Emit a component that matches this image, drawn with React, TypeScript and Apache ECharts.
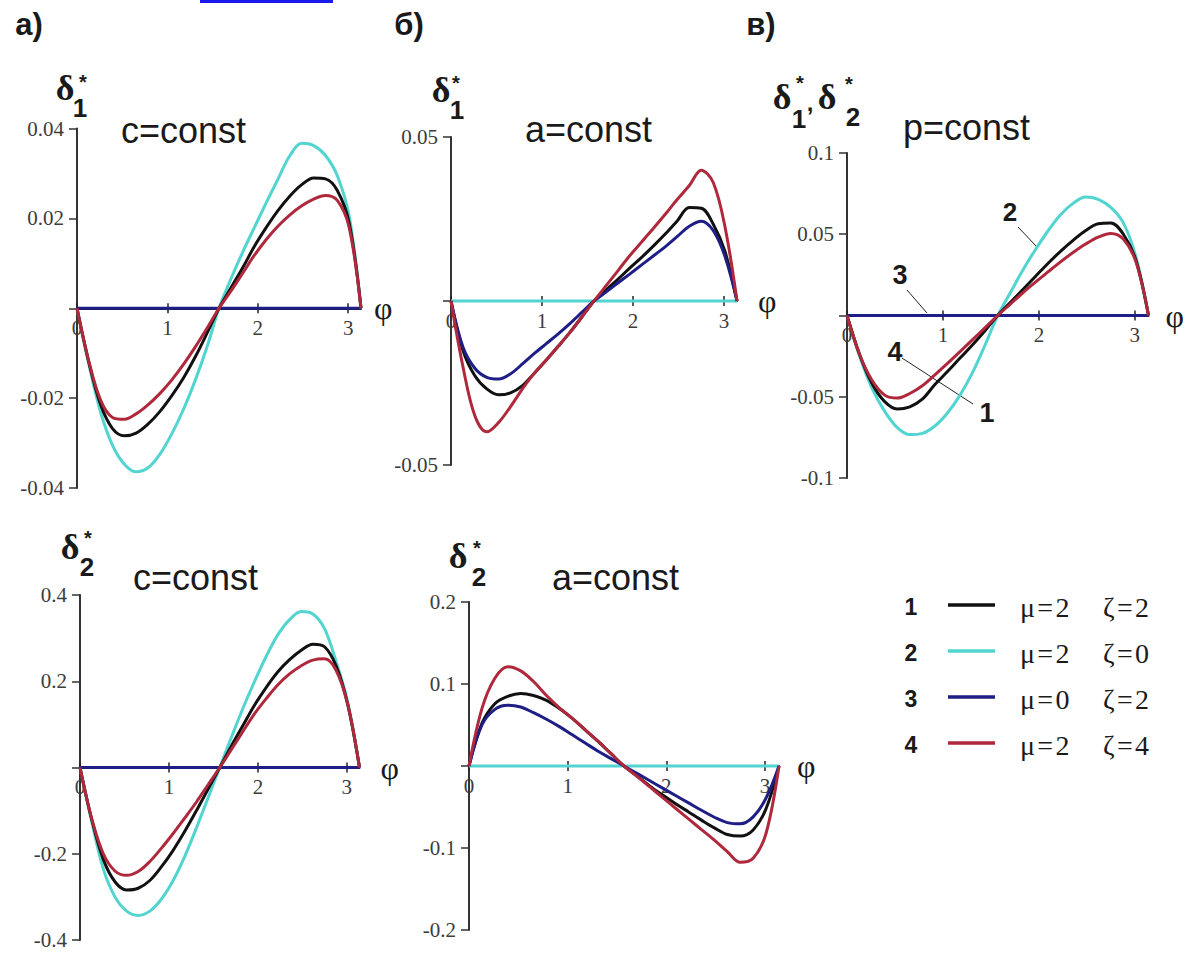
import React, { useEffect, useRef } from 'react';
import * as echarts from 'echarts';

// φ grid (rad), step π/24
const PHI = [0, 0.131, 0.262, 0.393, 0.524, 0.654, 0.785, 0.916, 1.047, 1.178, 1.309, 1.44, 1.571, 1.702, 1.833, 1.963, 2.094, 2.225, 2.356, 2.487, 2.618, 2.749, 2.88, 3.011, 3.142];
const ZERO = [0, 0, 0, 0, 0, 0, 0, 0, 0, 0, 0, 0, 0, 0, 0, 0, 0, 0, 0, 0, 0, 0, 0, 0, 0];

// а) δ1*, c=const
const A_CYAN = [0, -0.0125, -0.0232, -0.0305, -0.0347, -0.0364, -0.0355, -0.0325, -0.028, -0.0225, -0.016, -0.0085, 0, 0.0065, 0.0125, 0.018, 0.0235, 0.0288, 0.034, 0.0367, 0.0362, 0.034, 0.0295, 0.0205, 0];
const A_BLACK = [0, -0.012, -0.0215, -0.0268, -0.0284, -0.0278, -0.0258, -0.023, -0.0195, -0.0155, -0.0108, -0.0055, 0, 0.0045, 0.009, 0.0138, 0.018, 0.0218, 0.025, 0.0275, 0.029, 0.0288, 0.0262, 0.019, 0];
const A_RED = [0, -0.0118, -0.0205, -0.0243, -0.0247, -0.0235, -0.0215, -0.019, -0.016, -0.0125, -0.0086, -0.0044, 0, 0.0038, 0.0078, 0.0118, 0.0153, 0.0183, 0.0208, 0.0228, 0.0243, 0.0251, 0.024, 0.018, 0];

// б) δ1*, a=const
const B_BLACK = [0, -0.015, -0.0228, -0.0268, -0.0286, -0.028, -0.0258, -0.022, -0.018, -0.0138, -0.0095, -0.0048, 0, 0.0033, 0.0066, 0.01, 0.0133, 0.0168, 0.0205, 0.0245, 0.0285, 0.0283, 0.0235, 0.015, 0];
const B_BLUE = [0, -0.014, -0.0205, -0.0233, -0.0238, -0.0222, -0.0192, -0.016, -0.013, -0.01, -0.0068, -0.0034, 0, 0.0027, 0.0055, 0.0082, 0.011, 0.0138, 0.0166, 0.0197, 0.0228, 0.0243, 0.0215, 0.0135, 0];
const B_RED = [0, -0.02, -0.035, -0.0399, -0.037, -0.0322, -0.0268, -0.022, -0.018, -0.0138, -0.0095, -0.0048, 0, 0.0046, 0.0092, 0.0138, 0.018, 0.0222, 0.0265, 0.031, 0.0352, 0.0399, 0.0362, 0.0225, 0];

// в) δ1*, δ2*, p=const
const C_CYAN = [0, -0.025, -0.045, -0.059, -0.069, -0.0733, -0.0725, -0.068, -0.06, -0.049, -0.035, -0.018, 0, 0.014, 0.028, 0.0405, 0.052, 0.062, 0.069, 0.0729, 0.0715, 0.0665, 0.057, 0.036, 0];
const C_BLACK = [0, -0.024, -0.042, -0.053, -0.0575, -0.0562, -0.0515, -0.0425, -0.0345, -0.0262, -0.018, -0.0092, 0, 0.008, 0.016, 0.024, 0.032, 0.0395, 0.0462, 0.0523, 0.0565, 0.057, 0.05, 0.034, 0];
const C_RED = [0, -0.024, -0.04, -0.049, -0.0508, -0.048, -0.0432, -0.0365, -0.0295, -0.0222, -0.0148, -0.0075, 0, 0.007, 0.014, 0.0205, 0.0268, 0.033, 0.0388, 0.044, 0.0482, 0.0505, 0.047, 0.033, 0];

// а) δ2*, c=const
const D_CYAN = [0, -0.125, -0.235, -0.3, -0.333, -0.343, -0.333, -0.305, -0.262, -0.206, -0.14, -0.07, 0, 0.07, 0.138, 0.2, 0.258, 0.308, 0.343, 0.362, 0.356, 0.322, 0.245, 0.15, 0];
const D_BLACK = [0, -0.12, -0.213, -0.265, -0.284, -0.28, -0.262, -0.23, -0.192, -0.148, -0.1, -0.05, 0, 0.05, 0.098, 0.145, 0.186, 0.222, 0.25, 0.272, 0.286, 0.28, 0.235, 0.145, 0];
const D_RED = [0, -0.118, -0.2, -0.24, -0.25, -0.241, -0.218, -0.187, -0.153, -0.117, -0.08, -0.04, 0, 0.042, 0.084, 0.125, 0.16, 0.192, 0.217, 0.236, 0.249, 0.252, 0.225, 0.145, 0];

// б) δ2*, a=const
const E_BLACK = [0, 0.052, 0.076, 0.085, 0.0885, 0.086, 0.08, 0.07, 0.058, 0.044, 0.03, 0.015, 0, -0.012, -0.0245, -0.0355, -0.046, -0.056, -0.066, -0.0755, -0.0835, -0.0855, -0.078, -0.052, 0];
const E_BLUE = [0, 0.05, 0.069, 0.074, 0.072, 0.065, 0.057, 0.048, 0.038, 0.028, 0.018, 0.009, 0, -0.009, -0.018, -0.027, -0.036, -0.045, -0.054, -0.0625, -0.069, -0.0705, -0.062, -0.039, 0];
const E_RED = [0, 0.07, 0.107, 0.121, 0.116, 0.103, 0.086, 0.071, 0.058, 0.044, 0.03, 0.015, 0, -0.0125, -0.0255, -0.0385, -0.0515, -0.0645, -0.0775, -0.0905, -0.1045, -0.1175, -0.1125, -0.082, 0];

const X_TICKS = [0, 1, 2, 3];

const LEGEND_NUMS = ['1', '2', '3', '4'];
const LEGEND_MU = ['μ\u200a=\u200a2', 'μ\u200a=\u200a2', 'μ\u200a=\u200a0', 'μ\u200a=\u200a2'];
const LEGEND_ZETA = ['ζ\u200a=\u200a2', 'ζ\u200a=\u200a0', 'ζ\u200a=\u200a2', 'ζ\u200a=\u200a4'];
const LEGEND_KEYS = ['black', 'cyan', 'navy', 'red'];

const COLORS: Record<string, string> = {
  black: '#111111',
  cyan: '#52d4d0',
  navy: '#1e1e86',
  red: '#b0283c',
};

type Panel = {
  left: number; top: number; width: number; height: number;
  min: number; max: number; interval: number; nameGap: number;
  lines: [string, number[]][];
};

const PANELS: Panel[] = [
  { left: 77, top: 128.5, width: 284, height: 359.5, min: -0.04, max: 0.04, interval: 0.02, nameGap: 13,
    lines: [['navy', ZERO], ['cyan', A_CYAN], ['black', A_BLACK], ['red', A_RED]] },
  { left: 451, top: 137, width: 286, height: 328, min: -0.05, max: 0.05, interval: 0.05, nameGap: 21,
    lines: [['cyan', ZERO], ['black', B_BLACK], ['navy', B_BLUE], ['red', B_RED]] },
  { left: 847, top: 153, width: 301.5, height: 325, min: -0.1, max: 0.1, interval: 0.05, nameGap: 17,
    lines: [['navy', ZERO], ['cyan', C_CYAN], ['black', C_BLACK], ['red', C_RED]] },
  { left: 80, top: 595, width: 279.5, height: 345, min: -0.4, max: 0.4, interval: 0.2, nameGap: 21,
    lines: [['navy', ZERO], ['cyan', D_CYAN], ['black', D_BLACK], ['red', D_RED]] },
  { left: 469, top: 602, width: 310, height: 328, min: -0.2, max: 0.2, interval: 0.1, nameGap: 18,
    lines: [['cyan', ZERO], ['black', E_BLACK], ['navy', E_BLUE], ['red', E_RED]] },
];

const TXT = '#1a1a1a';
const LBL = '#3c3c3c';

function txt(text: string, x: number, y: number, font: string, align = 'center', fill = TXT) {
  return { type: 'text', x, y, silent: true, style: { text, font, fill, align, verticalAlign: 'middle' } };
}
function seg(x1: number, y1: number, x2: number, y2: number, stroke = '#222', lineWidth = 1) {
  return { type: 'line', silent: true, shape: { x1, y1, x2, y2 }, style: { stroke, lineWidth } };
}

const DELTA = "bold 36px 'Liberation Serif'";
const STAR = "bold 20px 'Liberation Sans'";
const SUB = "bold 26px 'Liberation Sans'";
const TITLE = "36px 'Liberation Sans'";
const HEAD = "bold 31px 'Liberation Sans'";

function deltaLabel(dx: number, dy: number, sx: number, sy: number, sub: string, bx: number, by: number) {
  return [txt('δ', dx, dy, DELTA), txt('*', sx, sy + 4, STAR), txt(sub, bx, by, SUB)];
}

function buildOption() {
  const graphic: any[] = [
    { type: 'rect', silent: true, shape: { x: 200, y: 0, width: 133, height: 3 }, style: { fill: '#1a1aee' } },
    txt('а)', 29, 24, HEAD),
    txt('б)', 409, 24, HEAD),
    txt('в)', 761, 24, HEAD),
    txt('c=const', 121, 130.5, TITLE, 'left'),
    txt('a=const', 525, 129.5, TITLE, 'left'),
    txt('p=const', 903, 127.5, TITLE, 'left'),
    txt('c=const', 133, 577.5, TITLE, 'left'),
    txt('a=const', 552, 577.5, TITLE, 'left'),
    ...deltaLabel(65, 87.5, 83, 78, '1', 80, 108),
    ...deltaLabel(441, 90, 456, 79, '1', 457, 110),
    ...deltaLabel(782, 97, 800, 79, '1', 799, 119),
    txt(',', 810, 102, "bold 24px 'Liberation Sans'"),
    ...deltaLabel(827, 97, 849, 80, '2', 853, 117),
    ...deltaLabel(70, 547, 88, 534, '2', 87, 567),
    ...deltaLabel(458, 556, 477, 544, '2', 479, 577),
    // annotations in panel в
    txt('2', 1010, 212, "bold 26px 'Liberation Sans'"),
    seg(1018, 227, 1037, 247),
    txt('3', 900, 275, "bold 27px 'Liberation Sans'"),
    seg(907, 290, 927, 313),
    txt('4', 895, 352, "bold 27px 'Liberation Sans'"),
    seg(902, 358, 973, 404),
    txt('1', 987, 413, "bold 27px 'Liberation Sans'"),
  ];
  const rows = [607, 653, 699, 745];
  LEGEND_NUMS.forEach((n, i) => {
    const y = rows[i];
    graphic.push(txt(n, 911, y, "bold 23px 'Liberation Sans'"));
    graphic.push(seg(948, y - 2, 995, y - 2, COLORS[LEGEND_KEYS[i]], 3.5));
    graphic.push(txt(LEGEND_MU[i], 1020, y, "28px 'Liberation Serif'", 'left'));
    graphic.push(txt(LEGEND_ZETA[i], 1103, y, "28px 'Liberation Serif'", 'left'));
  });

  // main x axes: moved up to the zero level with a negative offset
  const mainX = PANELS.map((p, i) => ({
    type: 'value', gridIndex: i, min: 0, max: 3.142, position: 'bottom', offset: -p.height / 2,
    axisLine: { show: true, onZero: false, lineStyle: { color: '#222', width: 2 } },
    axisTick: { show: true, customValues: X_TICKS, length: 5, lineStyle: { color: '#222', width: 1.5 } },
    axisLabel: {
      show: true, customValues: X_TICKS, margin: 9, fontFamily: 'Liberation Serif', fontSize: 21, color: LBL,
      formatter: (v: number) => (Math.abs(v - Math.round(v)) < 1e-6 ? String(Math.round(v)) : ''),
    },
    splitLine: { show: false },
    name: 'φ', nameLocation: 'end', nameGap: p.nameGap,
    nameTextStyle: { fontFamily: 'Liberation Serif', fontSize: 32, color: TXT, verticalAlign: 'middle', align: 'left' },
  }));
  // helper x axes: only the inner half of the crossing ticks
  const tickX = PANELS.map((p, i) => ({
    type: 'value', gridIndex: i, min: 0, max: 3.142, position: 'bottom', offset: -p.height / 2,
    axisLine: { show: false, onZero: false },
    axisTick: { show: true, inside: true, customValues: X_TICKS, length: 5, lineStyle: { color: '#222', width: 1.5 } },
    axisLabel: { show: false },
    splitLine: { show: false },
  }));

  return {
    animation: false,
    backgroundColor: '#ffffff',
    grid: PANELS.map((p) => ({ left: p.left, top: p.top, width: p.width, height: p.height, containLabel: false, show: false })),
    xAxis: [...mainX, ...tickX],
    yAxis: PANELS.map((p, i) => ({
      type: 'value', gridIndex: i, min: p.min, max: p.max, interval: p.interval,
      axisLine: { show: true, onZero: false, lineStyle: { color: '#333', width: 2 } },
      axisTick: { show: true, length: 8, lineStyle: { color: '#333', width: 1.5 } },
      axisLabel: {
        margin: 13, fontFamily: 'Liberation Serif', fontSize: 21, color: LBL,
        formatter: (v: number) => (Math.abs(v) < 1e-9 ? '' : String(+v.toFixed(4))),
      },
      splitLine: { show: false },
    })),
    series: PANELS.flatMap((p, i) =>
      p.lines.map(([c, arr]) => ({
        type: 'line', xAxisIndex: i, yAxisIndex: i, silent: true,
        data: PHI.map((x, k) => [x, arr[k]]),
        showSymbol: false, symbol: 'none', smooth: 0.35,
        lineStyle: { color: COLORS[c], width: 3 },
      }))
    ),
    graphic,
  };
}

export default function App() {
  const ref = useRef<HTMLDivElement>(null);
  useEffect(() => {
    if (!ref.current) return;
    const chart = echarts.init(ref.current, null, { renderer: 'svg' });
    chart.setOption(buildOption() as any);
    return () => chart.dispose();
  }, []);
  return (
    <div
      ref={ref}
      style={{ position: 'absolute', left: 0, top: 0, width: 1192, height: 953, background: '#ffffff' }}
    />
  );
}
